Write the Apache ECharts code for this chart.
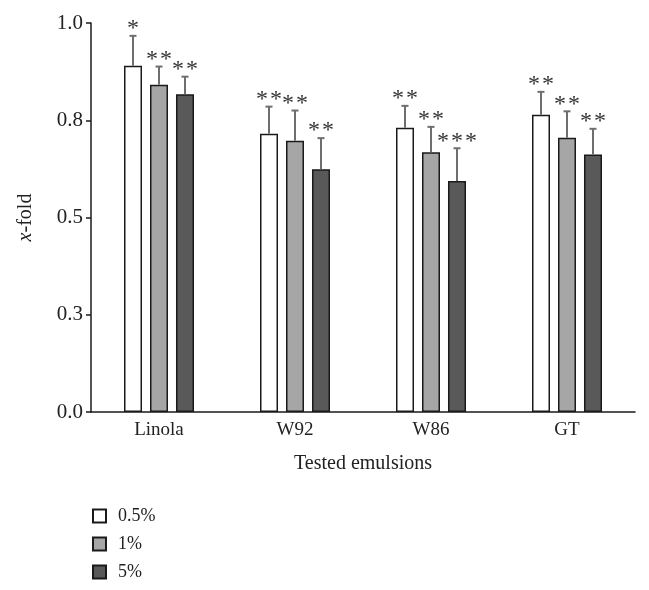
<!DOCTYPE html>
<html>
<head>
<meta charset="utf-8">
<script src="https://cdn.jsdelivr.net/npm/echarts@6/dist/echarts.min.js"></script>
<style>
html,body{margin:0;padding:0;background:#fff;}
#chart{width:649px;height:590px;}
</style>
</head>
<body>
<div id="chart"></div>
<script>
// ---- data ----
const categories = ['Linola', 'W92', 'W86', 'GT'];
const seriesNames = ['0.5%', '1%', '5%'];
const mean05 = [0.890, 0.715, 0.731, 0.764];
const mean1  = [0.841, 0.697, 0.668, 0.705];
const mean5  = [0.817, 0.624, 0.594, 0.662];
const sd05 = [0.077, 0.070, 0.056, 0.059];
const sd1  = [0.047, 0.078, 0.065, 0.068];
const sd5  = [0.045, 0.080, 0.084, 0.066];
const stars05 = ['*', '**', '**', '**'];
const stars1  = ['**', '**', '**', '**'];
const stars5  = ['**', '**', '***', '**'];
const yTickValues = [0, 0.25, 0.5, 0.75, 1.0];
const yTickLabels = ['0.0', '0.3', '0.5', '0.8', '1.0'];

const means = [mean05, mean1, mean5];
const sds = [sd05, sd1, sd5];
const stars = [stars05, stars1, stars5];
const fills = ['#ffffff', '#a6a6a6', '#595959'];

const FONT = 'Liberation Serif';
const BAR_W = 18;
const PITCH = 26;

const chart = echarts.init(document.getElementById('chart'), null, {renderer: 'canvas'});

const series = [];
seriesNames.forEach((name, s) => {
  series.push({
    name: name,
    type: 'bar',
    barWidth: BAR_W,
    barGap: '44.4%',
    data: means[s],
    itemStyle: {color: fills[s], borderColor: '#1a1a1a', borderWidth: 1.5},
    emphasis: {disabled: true},
    z: 2
  });
});
seriesNames.forEach((name, s) => {
  const offset = (s - 1) * PITCH;
  series.push({
    name: 'err' + s,
    type: 'custom',
    data: categories.map((c, i) => [i, means[s][i], means[s][i] + sds[s][i]]),
    z: 3,
    silent: true,
    renderItem: function (params, api) {
      const i = api.value(0);
      const p0 = api.coord([i, api.value(1)]);
      const p1 = api.coord([i, api.value(2)]);
      const x = p0[0] + offset;
      const st = {stroke: '#6e6e6e', lineWidth: 2};
      const txt = stars[s][params.dataIndex].split('').join('\u200A');
      return {
        type: 'group',
        children: [
          {type: 'line', shape: {x1: x, y1: p0[1], x2: x, y2: p1[1]}, style: st},
          {type: 'line', shape: {x1: x - 3.5, y1: p1[1], x2: x + 3.5, y2: p1[1]}, style: st},
          {type: 'text', style: {text: txt, x: x, y: p1[1] + 5,
            align: 'center', verticalAlign: 'bottom', fill: '#333', font: '24px "' + FONT + '"'}}
        ]
      };
    }
  });
});

const option = {
  backgroundColor: '#ffffff',
  animation: false,
  grid: {left: 91, right: 14, top: 23, bottom: 178, containLabel: false},
  legend: {
    data: seriesNames,
    orient: 'vertical',
    left: 92,
    top: 507,
    padding: 0,
    itemWidth: 13,
    itemHeight: 13,
    itemGap: 10,
    icon: 'rect',
    textStyle: {fontFamily: FONT, fontSize: 18, color: '#222', padding: [0, 0, 0, 7]}
  },
  xAxis: {
    type: 'category',
    data: categories,
    name: 'Tested emulsions',
    nameLocation: 'middle',
    nameGap: 42,
    nameTextStyle: {fontFamily: FONT, fontSize: 20, color: '#222'},
    axisLine: {lineStyle: {color: '#1a1a1a', width: 1.5}},
    axisTick: {show: false},
    axisLabel: {fontFamily: FONT, fontSize: 19, color: '#222', margin: 9}
  },
  yAxis: {
    type: 'value',
    min: 0,
    max: 1,
    interval: 0.25,
    name: '{i|x}-fold',
    nameLocation: 'middle',
    nameGap: 55,
    nameRotate: 90,
    nameTextStyle: {fontFamily: FONT, fontSize: 20, color: '#222',
      rich: {i: {fontFamily: FONT, fontSize: 20, fontStyle: 'italic', color: '#222'}}},
    axisLine: {show: true, lineStyle: {color: '#1a1a1a', width: 1.5}},
    axisTick: {show: true, length: 5, lineStyle: {color: '#1a1a1a', width: 1.5}},
    splitLine: {show: false},
    axisLabel: {fontFamily: FONT, fontSize: 21, color: '#222', margin: 8,
      formatter: function (v) {
        const k = yTickValues.findIndex(t => Math.abs(t - v) < 1e-9);
        return k >= 0 ? yTickLabels[k] : '';
      }}
  },
  series: series
};
chart.setOption(option);
</script>
</body>
</html>
